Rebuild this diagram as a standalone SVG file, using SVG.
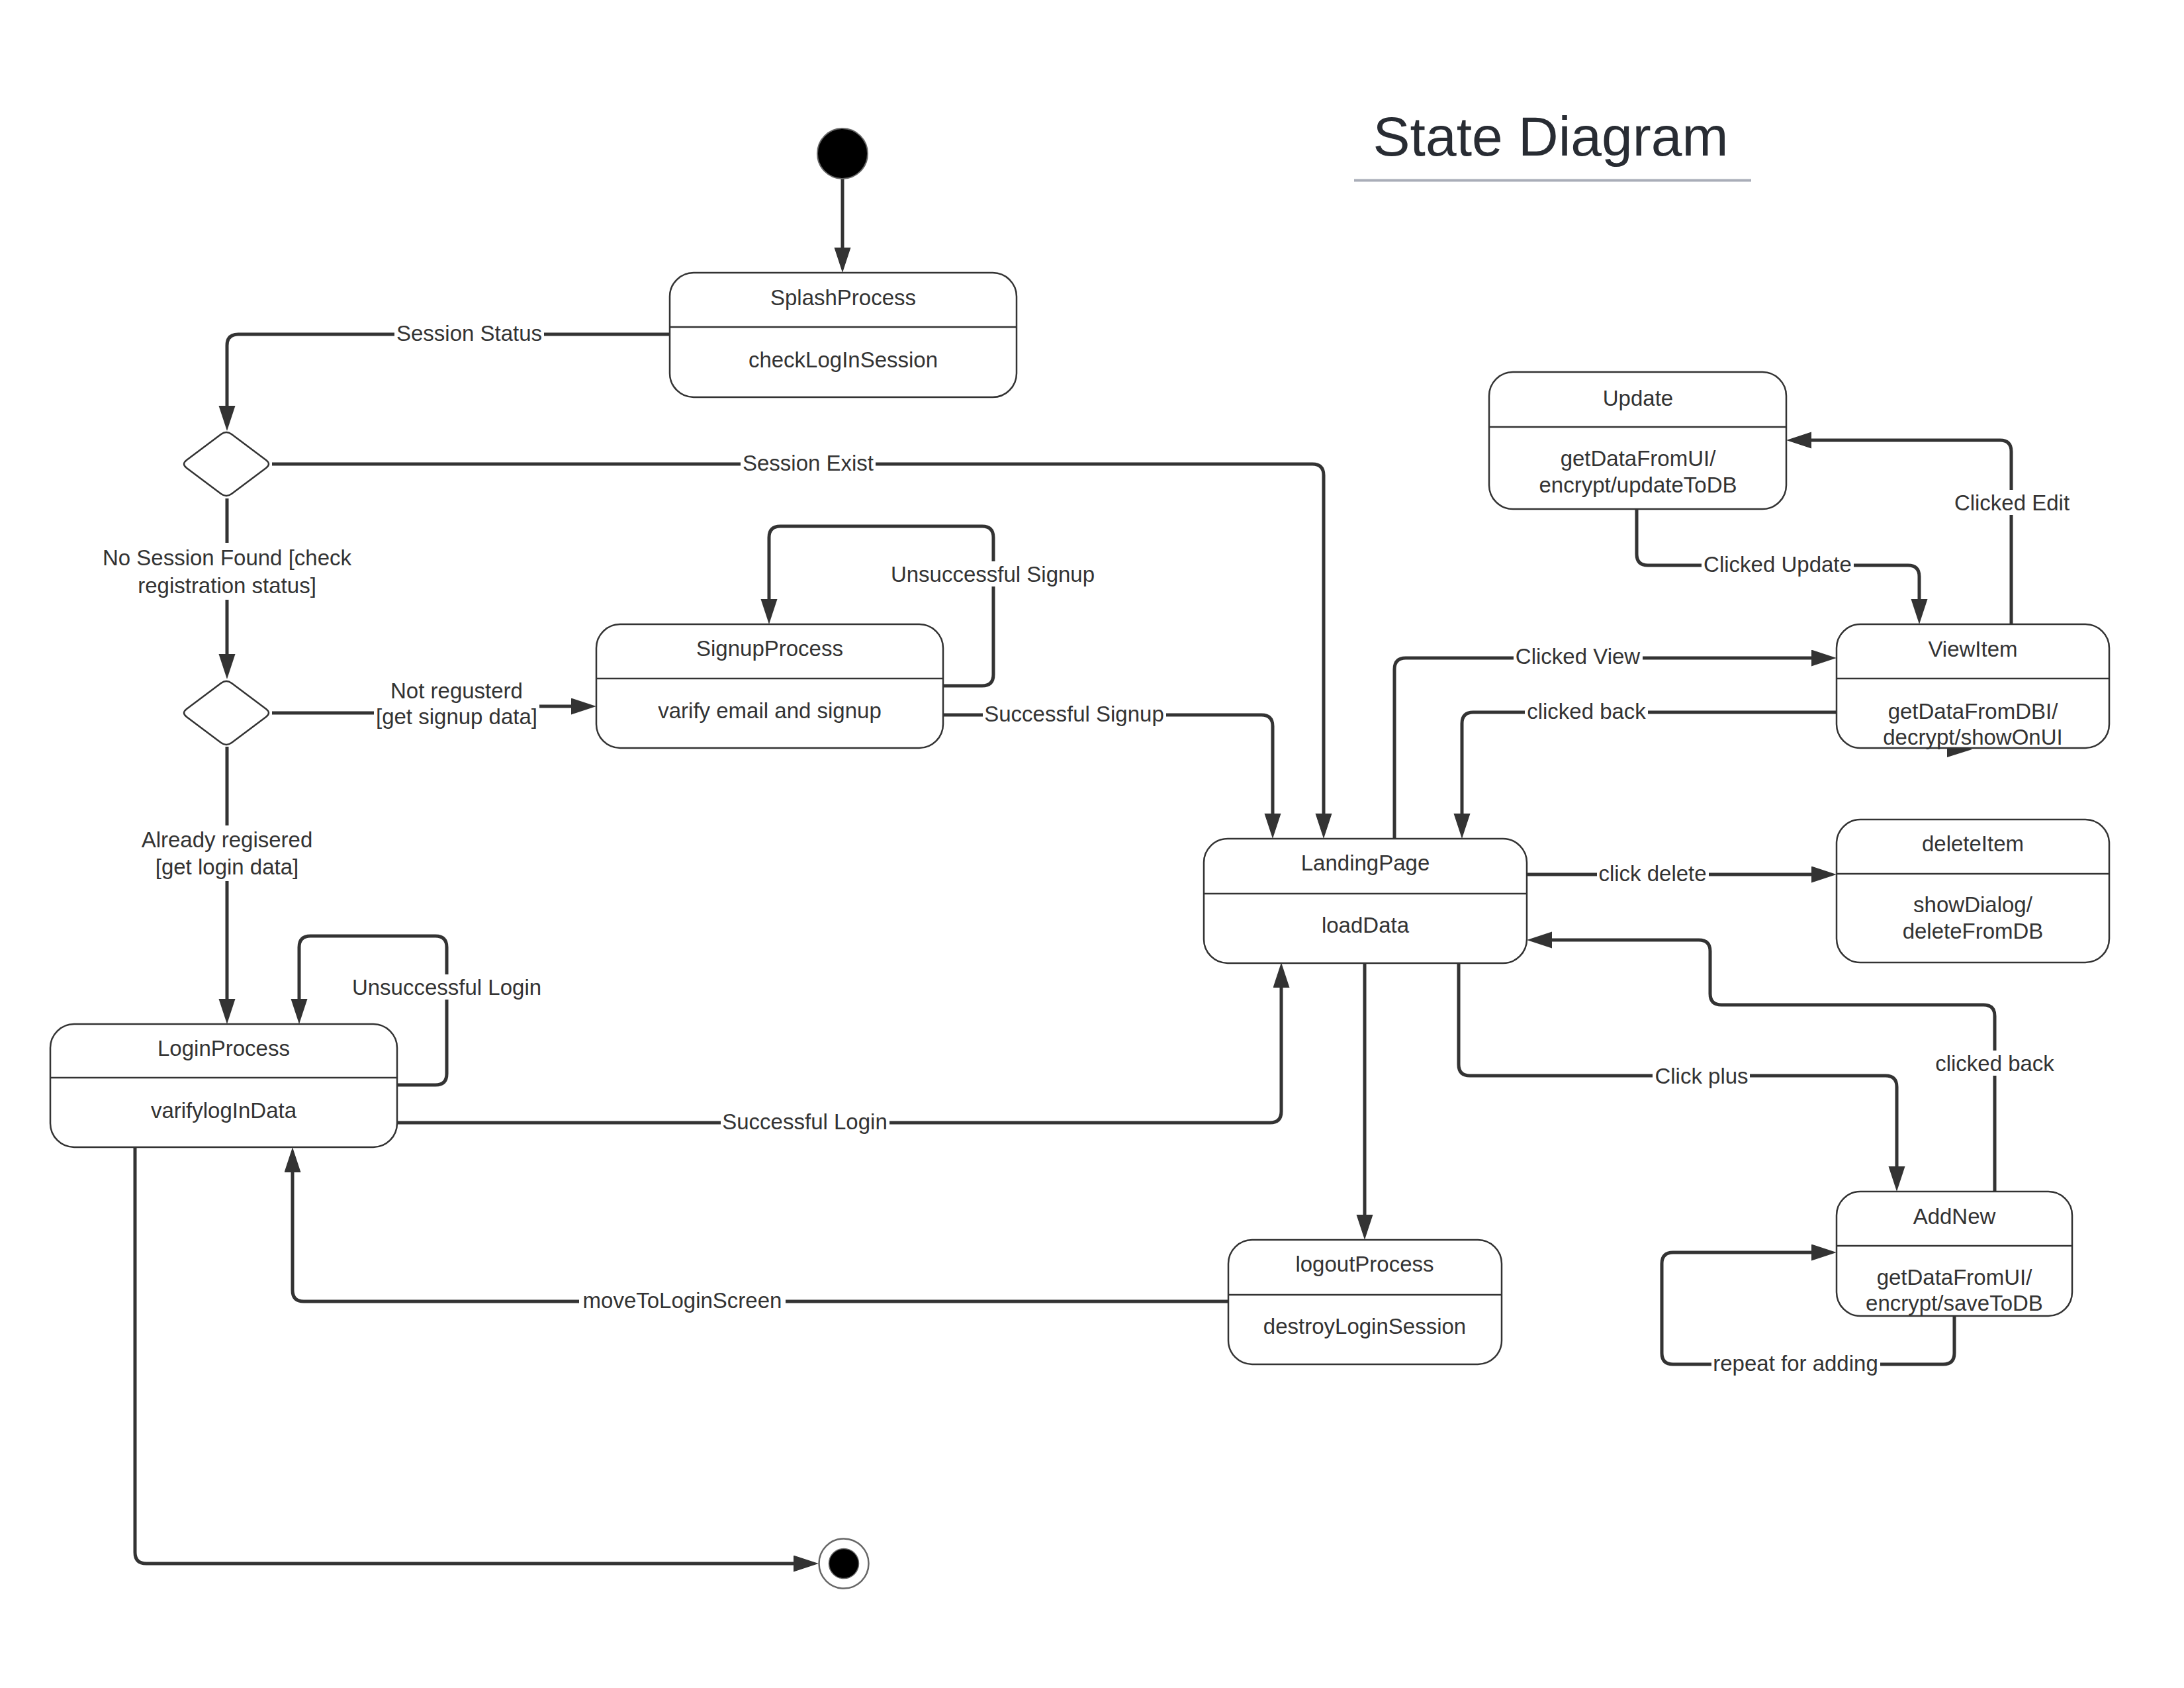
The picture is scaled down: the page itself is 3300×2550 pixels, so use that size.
<svg xmlns="http://www.w3.org/2000/svg" width="3300" height="2550" viewBox="0 0 3300 2550">
<style>
.box{fill:#fff;stroke:#333;stroke-width:2.5}
.div{stroke:#333;stroke-width:2.5}
.t{font-family:"Liberation Sans",Arial,sans-serif;font-size:33px;fill:#333;text-anchor:middle}
.c{fill:none;stroke:#333;stroke-width:5;marker-end:url(#arr)}
.cn{fill:none;stroke:#333;stroke-width:5}
.lb{fill:#fff}
</style>
<defs>
<marker id="arr" markerUnits="userSpaceOnUse" markerWidth="40" markerHeight="26" refX="28" refY="12.5" orient="auto"><path d="M0,0 L38,12.5 L0,25 Z" fill="#333"/></marker>
<path id="dia" d="M-8,-45 Q0,-51 8,-45 L60,-6 Q68,0 60,6 L8,45 Q0,51 -8,45 L-60,6 Q-68,0 -60,-6 Z"/>
</defs>
<rect width="3300" height="2550" fill="#fff"/>

<g id="title">
<text x="2343" y="235" style="font-family:'Liberation Sans',Arial,sans-serif;font-size:84px;fill:#282c33;text-anchor:middle">State Diagram</text>
<line x1="2046" y1="272.5" x2="2646" y2="272.5" stroke="#a9adb8" stroke-width="4"/>
</g>

<g id="connectors">
<path class="c" d="M1273,270 V402"/>
<path class="c" d="M1012,505 H360 Q343,505 343,522 V641"/>
<path class="c" d="M411,701 H1983 Q2000,701 2000,718 V1257"/>
<path class="c" d="M343,753 V1016"/>
<path class="c" d="M411,1077 H690 V1067 H891"/>
<path class="c" d="M343,1128 V1537"/>
<path class="c" d="M1425,1036 H1484 Q1501,1036 1501,1019 V812 Q1501,795 1484,795 H1179 Q1162,795 1162,812 V933"/>
<path class="c" d="M1425,1080 H1906 Q1923,1080 1923,1097 V1257"/>
<path class="c" d="M600,1639 H658 Q675,1639 675,1622 V1431 Q675,1414 658,1414 H469 Q452,1414 452,1431 V1537"/>
<path class="c" d="M600,1696 H1919 Q1936,1696 1936,1679 V1464"/>
<path class="c" d="M204,1733 V2345 Q204,2362 221,2362 H1227"/>
<path class="c" d="M2062,1455 V1863"/>
<path class="c" d="M1856,1966 H459 Q442,1966 442,1949 V1743"/>
<path class="c" d="M2107,1267 V1011 Q2107,994 2124,994 H2765"/>
<path class="c" d="M2775,1076 H2226 Q2209,1076 2209,1093 V1257"/>
<path class="c" d="M2307,1321 H2765"/>
<path class="c" d="M2204,1455 V1608 Q2204,1625 2221,1625 H2849 Q2866,1625 2866,1642 V1790"/>
<path class="c" d="M3014,1800 V1535 Q3014,1518 2997,1518 H2601 Q2584,1518 2584,1501 V1437 Q2584,1420 2567,1420 H2317"/>
<path class="c" d="M2953,1988 V2044 Q2953,2061 2936,2061 H2528 Q2511,2061 2511,2044 V1909 Q2511,1892 2528,1892 H2765"/>
<path class="c" d="M2473,769 V837 Q2473,854 2490,854 H2883 Q2900,854 2900,871 V933"/>
<path class="c" d="M3039,943 V682 Q3039,665 3022,665 H2709"/>
<path d="M2942,1120 L2980,1132 L2942,1144 Z" fill="#333"/>

<rect class="lb" x="596" y="484" width="226" height="38"/>
<text class="t" x="709" y="515">Session Status</text>
<rect class="lb" x="1119" y="680" width="204" height="38"/>
<text class="t" x="1221" y="711">Session Exist</text>
<rect class="lb" x="152" y="820" width="382" height="86"/>
<text class="t" x="343" y="854">No Session Found [check</text>
<text class="t" x="343" y="896">registration status]</text>
<rect class="lb" x="565" y="1022" width="250" height="82"/>
<text class="t" x="690" y="1055">Not regusterd</text>
<text class="t" x="690" y="1094">[get signup data]</text>
<rect class="lb" x="210" y="1247" width="266" height="84"/>
<text class="t" x="343" y="1280">Already regisered</text>
<text class="t" x="343" y="1321">[get login data]</text>
<rect class="lb" x="529" y="1472" width="292" height="38"/>
<text class="t" x="675" y="1503">Unsuccessful Login</text>
<rect class="lb" x="1343" y="848" width="314" height="38"/>
<text class="t" x="1500" y="879">Unsuccessful Signup</text>
<rect class="lb" x="1485" y="1059" width="277" height="38"/>
<text class="t" x="1623" y="1090">Successful Signup</text>
<rect class="lb" x="1089" y="1675" width="255" height="38"/>
<text class="t" x="1216" y="1706">Successful Login</text>
<rect class="lb" x="875" y="1945" width="312" height="38"/>
<text class="t" x="1031" y="1976">moveToLoginScreen</text>
<rect class="lb" x="2287" y="972" width="195" height="38"/>
<text class="t" x="2384" y="1003">Clicked View</text>
<rect class="lb" x="2304" y="1055" width="186" height="38"/>
<text class="t" x="2397" y="1086">clicked back</text>
<rect class="lb" x="2413" y="1300" width="169" height="38"/>
<text class="t" x="2497" y="1331">click delete</text>
<rect class="lb" x="2497" y="1606" width="147" height="38"/>
<text class="t" x="2571" y="1637">Click plus</text>
<rect class="lb" x="2921" y="1587" width="186" height="38"/>
<text class="t" x="3014" y="1618">clicked back</text>
<rect class="lb" x="2571" y="833" width="230" height="38"/>
<text class="t" x="2686" y="864">Clicked Update</text>
<rect class="lb" x="2950" y="740" width="180" height="38"/>
<text class="t" x="3040" y="771">Clicked Edit</text>
<rect class="lb" x="2586" y="2040" width="255" height="38"/>
<text class="t" x="2713" y="2071">repeat for adding</text>
</g>

<g id="initial">
<circle cx="1273" cy="232" r="38" fill="#000" stroke="#666" stroke-width="2"/>
</g>

<g id="final">
<circle cx="1275" cy="2362" r="37.5" fill="#fff" stroke="#666" stroke-width="2.5"/>
<circle cx="1275" cy="2362" r="22.5" fill="#000" stroke="#666" stroke-width="1.5"/>
</g>

<g id="decision1">
<use href="#dia" transform="translate(342,701)" fill="#fff" stroke="#333" stroke-width="2.5"/>
</g>
<g id="decision2">
<use href="#dia" transform="translate(342,1077)" fill="#fff" stroke="#333" stroke-width="2.5"/>
</g>

<g id="SplashProcess">
<rect class="box" x="1012" y="412" width="524" height="188" rx="36"/>
<line class="div" x1="1012" y1="494" x2="1536" y2="494"/>
<text class="t" x="1274" y="461">SplashProcess</text>
<text class="t" x="1274" y="555">checkLogInSession</text>
</g>

<g id="SignupProcess">
<rect class="box" x="901" y="943" width="524" height="187" rx="36"/>
<line class="div" x1="901" y1="1025" x2="1425" y2="1025"/>
<text class="t" x="1163" y="991">SignupProcess</text>
<text class="t" x="1163" y="1085">varify email and signup</text>
</g>

<g id="LoginProcess">
<rect class="box" x="76" y="1547" width="524" height="186" rx="36"/>
<line class="div" x1="76" y1="1628" x2="600" y2="1628"/>
<text class="t" x="338" y="1595">LoginProcess</text>
<text class="t" x="338" y="1689">varifylogInData</text>
</g>

<g id="LandingPage">
<rect class="box" x="1819" y="1267" width="488" height="188" rx="36"/>
<line class="div" x1="1819" y1="1350" x2="2307" y2="1350"/>
<text class="t" x="2063" y="1315">LandingPage</text>
<text class="t" x="2063" y="1409">loadData</text>
</g>

<g id="logoutProcess">
<rect class="box" x="1856" y="1873" width="413" height="188" rx="36"/>
<line class="div" x1="1856" y1="1956" x2="2269" y2="1956"/>
<text class="t" x="2062" y="1921">logoutProcess</text>
<text class="t" x="2062" y="2015">destroyLoginSession</text>
</g>

<g id="Update">
<rect class="box" x="2250" y="562" width="449" height="207" rx="36"/>
<line class="div" x1="2250" y1="645" x2="2699" y2="645"/>
<text class="t" x="2475" y="613">Update</text>
<text class="t" x="2475" y="704">getDataFromUI/</text>
<text class="t" x="2475" y="744">encrypt/updateToDB</text>
</g>

<g id="ViewItem">
<rect class="box" x="2775" y="943" width="412" height="187" rx="36"/>
<line class="div" x1="2775" y1="1025" x2="3187" y2="1025"/>
<text class="t" x="2981" y="992">ViewItem</text>
<text class="t" x="2981" y="1086">getDataFromDBI/</text>
<text class="t" x="2981" y="1125">decrypt/showOnUI</text>
</g>

<g id="deleteItem">
<rect class="box" x="2775" y="1238" width="412" height="216" rx="36"/>
<line class="div" x1="2775" y1="1320" x2="3187" y2="1320"/>
<text class="t" x="2981" y="1286">deleteItem</text>
<text class="t" x="2981" y="1378">showDialog/</text>
<text class="t" x="2981" y="1418">deleteFromDB</text>
</g>

<g id="AddNew">
<rect class="box" x="2775" y="1800" width="356" height="188" rx="36"/>
<line class="div" x1="2775" y1="1882" x2="3131" y2="1882"/>
<text class="t" x="2953" y="1849">AddNew</text>
<text class="t" x="2953" y="1941">getDataFromUI/</text>
<text class="t" x="2953" y="1980">encrypt/saveToDB</text>
</g>
</svg>
